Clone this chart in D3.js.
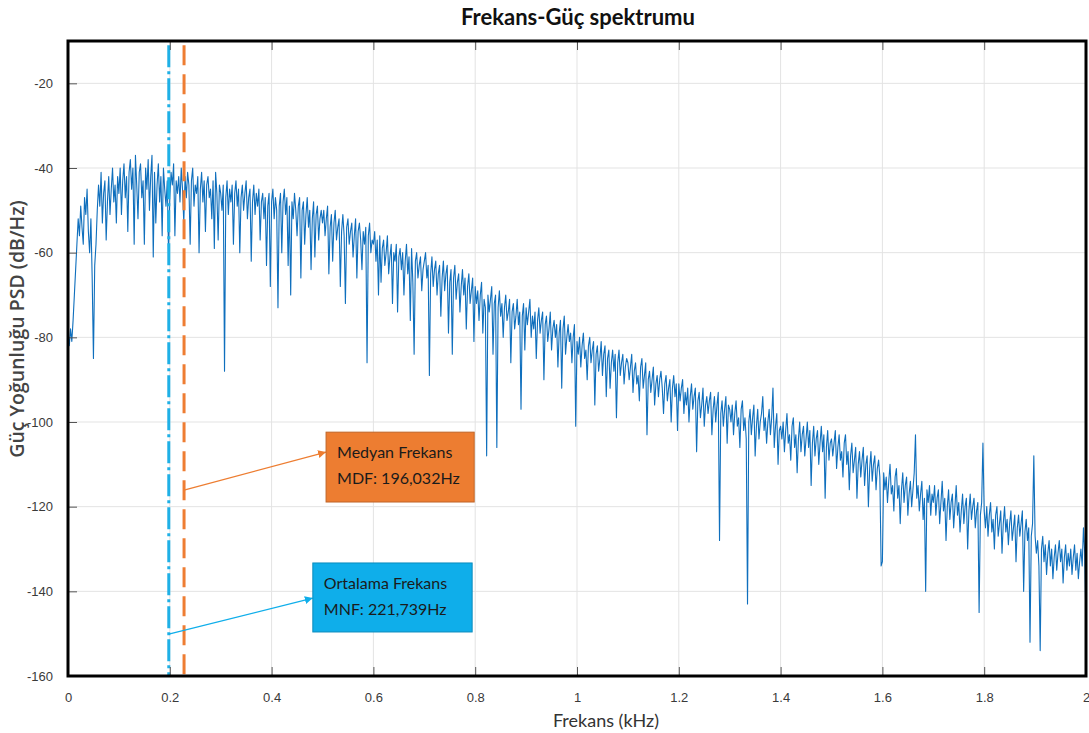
<!DOCTYPE html>
<html>
<head>
<meta charset="utf-8">
<script src="https://cdn.jsdelivr.net/npm/d3@7/dist/d3.min.js"></script>
<style>
  body { margin: 0; background: #fff; }
  svg { display: block; }
</style>
</head>
<body>
<svg id="chart" width="1089" height="733"></svg>
<script>
// data
const xTicks = [0, 0.2, 0.4, 0.6, 0.8, 1, 1.2, 1.4, 1.6, 1.8, 2];
const yTicks = [-160, -140, -120, -100, -80, -60, -40, -20];
const freqStep = 0.0025; // kHz between samples
const psdDb = [
  // 0 - 0.1
  -79, -82, -78, -81, -76, -70, -64, -58, -52, -56, -49, -54, -58, -47, -51, -45, -55, -60, -52, -66,
  -85, -63, -58, -50, -44, -49, -41, -53, -46, -43, -57, -48, -42, -51, -45, -40, -48, -44, -53, -42,
  // 0.1 - 0.2
  -46, -40, -51, -43, -39, -47, -42, -55, -41, -38, -45, -40, -58, -37, -44, -52, -41, -39, -47, -43,
  -58, -40, -45, -38, -50, -42, -37, -61, -41, -53, -44, -39, -48, -42, -56, -40, -45, -49, -43, -60,
  // 0.2 - 0.3
  -47, -41, -44, -39, -56, -43, -46, -42, -48, -40, -45, -53, -42, -47, -41, -44, -58, -43, -40, -49,
  -44, -46, -42, -60, -45, -41, -48, -43, -55, -44, -42, -47, -45, -52, -43, -59, -41, -46, -57, -44,
  // 0.3 - 0.4
  -46, -50, -44, -88, -47, -43, -51, -45, -48, -44, -58, -46, -43, -49, -45, -60, -47, -44, -50, -46,
  -43, -52, -47, -45, -62, -48, -44, -51, -46, -49, -45, -57, -48, -46, -52, -47, -63, -49, -46, -68,
  // 0.4 - 0.5
  -48, -45, -52, -47, -50, -73, -49, -46, -60, -48, -45, -51, -47, -63, -49, -70, -48, -52, -46, -50,
  -56, -49, -47, -66, -50, -48, -58, -51, -47, -54, -50, -64, -52, -48, -61, -51, -49, -57, -52, -50,
  // 0.5 - 0.6
  -53, -50, -56, -52, -49, -65, -54, -51, -62, -53, -50, -57, -54, -52, -68, -55, -51, -56, -72, -54,
  -52, -58, -55, -53, -61, -56, -52, -66, -55, -53, -57, -64, -55, -58, -54, -86, -56, -53, -60, -57,
  // 0.6 - 0.7
  -58, -55, -62, -57, -70, -56, -67, -59, -57, -63, -60, -56, -65, -61, -58, -72, -60, -62, -58, -74,
  -61, -59, -64, -60, -70, -62, -58, -65, -61, -76, -59, -67, -84, -62, -60, -66, -63, -61, -69, -64,
  // 0.7 - 0.8
  -62, -60, -66, -63, -89, -65, -61, -68, -64, -62, -70, -65, -63, -75, -66, -62, -69, -65, -63, -79,
  -67, -64, -84, -66, -63, -71, -67, -65, -74, -68, -64, -70, -66, -78, -68, -65, -72, -69, -66, -81,
  // 0.8 - 0.9
  -68, -72, -69, -76, -70, -67, -79, -71, -73, -108, -70, -74, -71, -68, -84, -72, -70, -106, -73, -69,
  -75, -72, -80, -73, -70, -76, -74, -71, -86, -74, -72, -78, -75, -71, -77, -74, -97, -75, -72, -83,
  // 0.9 - 1.0
  -73, -77, -74, -71, -80, -75, -78, -74, -85, -76, -73, -79, -76, -74, -90, -77, -75, -81, -78, -74,
  -83, -78, -76, -80, -77, -87, -79, -76, -92, -78, -75, -84, -80, -77, -81, -79, -86, -80, -77, -101,
  // 1.0 - 1.1
  -81, -84, -80, -87, -82, -79, -85, -83, -90, -82, -80, -86, -83, -81, -96, -84, -82, -88, -85, -81,
  -89, -84, -82, -94, -85, -83, -92, -86, -83, -88, -84, -99, -86, -83, -89, -86, -84, -91, -87, -85,
  // 1.1 - 1.2
  -86, -90, -87, -84, -93, -88, -86, -91, -89, -95, -87, -85, -92, -89, -86, -103, -90, -88, -93, -90,
  -87, -96, -91, -89, -94, -90, -88, -92, -98, -91, -89, -95, -92, -90, -100, -92, -89, -94, -91, -102,
  // 1.2 - 1.3
  -91, -95, -92, -90, -98, -93, -96, -92, -100, -94, -91, -97, -94, -92, -107, -95, -93, -99, -96, -92,
  -101, -96, -94, -98, -95, -93, -103, -97, -94, -100, -96, -93, -128, -98, -95, -101, -97, -94, -105, -96,
  // 1.3 - 1.4
  -97, -100, -96, -103, -98, -95, -101, -99, -106, -97, -95, -102, -99, -104, -143, -100, -97, -103, -99, -96,
  -108, -101, -97, -104, -100, -98, -94, -102, -99, -105, -100, -97, -103, -99, -92, -106, -101, -98, -110, -102,
  // 1.4 - 1.5
  -101, -104, -100, -107, -102, -98, -105, -103, -109, -101, -99, -106, -103, -112, -104, -100, -107, -103, -101, -108,
  -104, -100, -106, -102, -115, -105, -101, -108, -104, -102, -110, -105, -101, -107, -103, -118, -106, -102, -109, -105,
  // 1.5 - 1.6
  -104, -108, -105, -102, -111, -106, -103, -109, -107, -113, -105, -103, -110, -107, -116, -108, -105, -112, -109, -106,
  -118, -110, -107, -113, -109, -106, -115, -110, -108, -120, -111, -107, -114, -110, -108, -116, -111, -109, -113, -134,
  // 1.6 - 1.7
  -133, -112, -116, -113, -119, -114, -110, -117, -115, -121, -113, -111, -118, -115, -124, -116, -112, -119, -115, -113,
  -122, -117, -114, -120, -116, -112, -103, -118, -115, -121, -117, -114, -123, -118, -140, -116, -119, -115, -122, -117,
  // 1.7 - 1.8
  -119, -115, -122, -118, -116, -124, -119, -114, -121, -118, -128, -120, -116, -123, -119, -117, -125, -120, -115, -122,
  -119, -126, -121, -117, -124, -120, -118, -130, -121, -117, -123, -120, -118, -125, -121, -119, -145, -122, -119, -105,
  // 1.8 - 1.9
  -121, -125, -120, -127, -122, -119, -126, -123, -130, -122, -120, -127, -124, -121, -131, -124, -120, -126, -123, -129,
  -124, -121, -128, -125, -122, -133, -125, -122, -127, -124, -121, -140, -126, -123, -128, -125, -152, -127, -124, -108,
  // 1.9 - 2.0
  -127, -131, -128, -134, -154, -130, -127, -133, -129, -136, -131, -128, -134, -130, -137, -132, -129, -135, -131, -128,
  -133, -130, -138, -132, -129, -135, -131, -134, -130, -136, -132, -129, -135, -131, -137, -133, -130, -134, -125, -131,
  -148
];
const meanFreq = 0.198;   // cyan dash-dot marker
const medianFreq = 0.228; // orange dashed marker

const callouts = [
  { lines: ["Medyan Frekans", "MDF: 196,032Hz"], fill: "#ED7D31", box: [0.507, 0.798, -102.4, -118.9],
    from: [medianFreq, -116.1], to: [0.507, -107.1] },
  { lines: ["Ortalama Frekans", "MNF: 221,739Hz"], fill: "#0FAEEA", box: [0.481, 0.794, -133.3, -149.6],
    from: [meanFreq, -150.1], to: [0.481, -141.6] }
];

const svg = d3.select("#chart");
const margin = { top: 41, right: 3, bottom: 57, left: 68 };
const width = +svg.attr("width");
const height = +svg.attr("height");

const x = d3.scaleLinear().domain([0, 2]).range([margin.left, width - margin.right]);
const y = d3.scaleLinear().domain([-160, -10]).range([height - margin.bottom, margin.top]);

const points = psdDb.map((v, i) => ({ f: i * freqStep, p: v }));

// grid
svg.append("g").selectAll("line").data(xTicks).join("line")
  .attr("x1", d => x(d)).attr("x2", d => x(d))
  .attr("y1", y.range()[1]).attr("y2", y.range()[0])
  .attr("stroke", "#e3e3e3").attr("stroke-width", 1);
svg.append("g").selectAll("line").data(yTicks).join("line")
  .attr("x1", x.range()[0]).attr("x2", x.range()[1])
  .attr("y1", d => y(d)).attr("y2", d => y(d))
  .attr("stroke", "#e3e3e3").attr("stroke-width", 1);

// spectrum
svg.append("path")
  .datum(points)
  .attr("fill", "none")
  .attr("stroke", "#0f6fbd")
  .attr("stroke-width", 1.1)
  .attr("stroke-linejoin", "round")
  .attr("d", d3.line().x(d => x(d.f)).y(d => y(d.p)));

// marker lines
svg.append("line")
  .attr("x1", x(meanFreq)).attr("x2", x(meanFreq))
  .attr("y1", y(-11)).attr("y2", y(-160))
  .attr("stroke", "#1fb0e6").attr("stroke-width", 3)
  .attr("stroke-dasharray", "22,4,3,4");
svg.append("line")
  .attr("x1", x(medianFreq)).attr("x2", x(medianFreq))
  .attr("y1", y(-11)).attr("y2", y(-160))
  .attr("stroke", "#ee7d33").attr("stroke-width", 3)
  .attr("stroke-dasharray", "20,9");

// axes
const tickStyle = g => {
  g.select(".domain").remove();
  g.selectAll(".tick line").attr("stroke", "#555");
  g.selectAll(".tick text").attr("fill", "#3a3a3a")
    .style("font-family", "'Liberation Sans', Arial, sans-serif").style("font-size", "13px");
};
svg.append("g")
  .attr("transform", `translate(0,${y.range()[0]})`)
  .call(d3.axisBottom(x).tickValues(xTicks).tickSize(-9).tickPadding(17).tickFormat(d => String(d)))
  .call(tickStyle);
svg.append("g")
  .attr("transform", `translate(0,${y.range()[1]})`)
  .call(d3.axisTop(x).tickValues(xTicks).tickSize(-9).tickFormat(""))
  .call(g => g.select(".domain").remove())
  .call(g => g.selectAll(".tick line").attr("stroke", "#555"));
svg.append("g")
  .attr("transform", `translate(${x.range()[0]},0)`)
  .call(d3.axisLeft(y).tickValues(yTicks).tickSize(-9).tickPadding(15).tickFormat(d => String(d)))
  .call(tickStyle);

// frame
svg.append("rect")
  .attr("x", x.range()[0]).attr("y", y.range()[1])
  .attr("width", x.range()[1] - x.range()[0])
  .attr("height", y.range()[0] - y.range()[1])
  .attr("fill", "none").attr("stroke", "#000").attr("stroke-width", 3);

// callouts
const defs = svg.append("defs");
callouts.forEach((c, i) => {
  defs.append("marker")
    .attr("id", "arr" + i)
    .attr("viewBox", "0 0 10 10").attr("refX", 10).attr("refY", 5)
    .attr("markerWidth", 8).attr("markerHeight", 8).attr("markerUnits", "userSpaceOnUse")
    .attr("orient", "auto")
    .append("path").attr("d", "M0,0L10,5L0,10z").attr("fill", c.fill);

  svg.append("line")
    .attr("x1", x(c.from[0])).attr("y1", y(c.from[1]))
    .attr("x2", x(c.to[0])).attr("y2", y(c.to[1]))
    .attr("stroke", c.fill).attr("stroke-width", 1.3)
    .attr("marker-end", `url(#arr${i})`);

  const [bx0, bx1, by0, by1] = c.box;
  svg.append("rect")
    .attr("x", x(bx0)).attr("y", y(by0))
    .attr("width", x(bx1) - x(bx0)).attr("height", y(by1) - y(by0))
    .attr("fill", c.fill)
    .attr("stroke", d3.color(c.fill).darker(0.6)).attr("stroke-width", 1);

  svg.append("text")
    .attr("x", x(bx0) + 11).attr("y", y(by0) + 26)
    .attr("fill", "#1b1b1b")
    .style("font-family", "Lato, 'Open Sans', sans-serif").style("font-size", "16px")
    .selectAll("tspan").data(c.lines).join("tspan")
    .attr("x", x(bx0) + 11).attr("dy", (d, j) => j ? 26 : 0)
    .text(d => d);
});

// titles
svg.append("text")
  .attr("x", 578).attr("y", 25).attr("text-anchor", "middle")
  .style("font-family", "Lato, 'Open Sans', sans-serif").style("font-weight", "bold").style("font-size", "22px")
  .attr("fill", "#111")
  .text("Frekans-Güç spektrumu");
svg.append("text")
  .attr("x", 606).attr("y", 727).attr("text-anchor", "middle")
  .style("font-family", "Lato, 'Open Sans', sans-serif").style("font-size", "18px")
  .attr("fill", "#333")
  .text("Frekans (kHz)");
svg.append("text")
  .attr("transform", "translate(24,329) rotate(-90)")
  .attr("text-anchor", "middle")
  .style("font-family", "'Open Sans', sans-serif").style("font-size", "19.5px").style("font-weight", "600")
  .attr("fill", "#444")
  .text("Güç Yoğunluğu PSD (dB/Hz)");
</script>
</body>
</html>
